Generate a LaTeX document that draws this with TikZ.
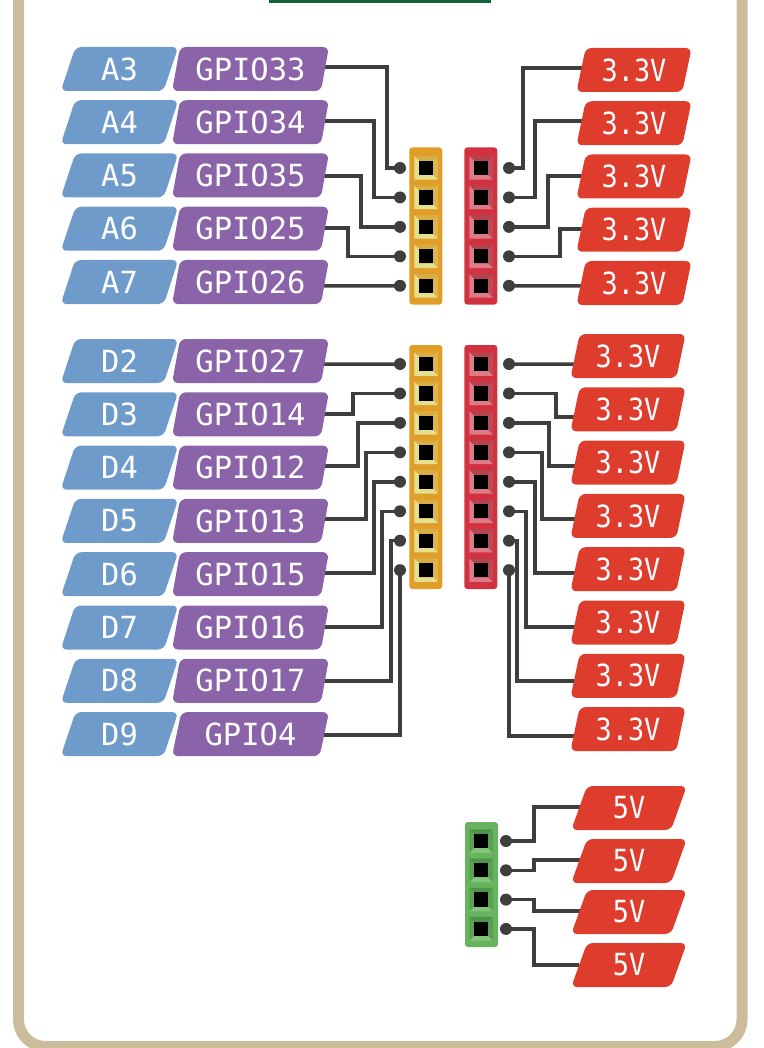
\documentclass[tikz,border=0pt]{standalone}
\usepackage{fontspec}
\setmonofont{DejaVu Sans Mono}
\newfontfamily\powerfont[FakeStretch=0.88]{DejaVu Sans Mono}
\usetikzlibrary{
		positioning,
		backgrounds,
		shapes.geometric
	}
\definecolor{framecol}{HTML}{CBBD9B}
\definecolor{barcol}{HTML}{14633A}
\definecolor{wirecol}{HTML}{403D3D}
\definecolor{bluecol}{HTML}{6F9BCB}
\definecolor{purplecol}{HTML}{8A63A8}
\definecolor{redcol}{HTML}{DE3D2D}
\definecolor{yhead}{HTML}{E09E28}
\definecolor{rhead}{HTML}{D2323F}
\definecolor{ghead}{HTML}{68B35E}
\definecolor{ytop}{HTML}{D8AE42}
\definecolor{yright}{HTML}{DDB54C}
\definecolor{ylow}{HTML}{E5DF90}
\definecolor{rtop}{HTML}{B5434F}
\definecolor{rright}{HTML}{BE4A58}
\definecolor{rlow}{HTML}{DE7B88}
\definecolor{gtop}{HTML}{4E9348}
\definecolor{gright}{HTML}{5AA053}
\definecolor{glow}{HTML}{82C47A}
\tikzset{
		tag/.style={trapezium, trapezium left angle=75, trapezium right angle=105, trapezium stretches=true, rounded corners=6pt, inner sep=0pt, outer sep=0pt, minimum height=44pt, text=white, font=\fontsize{30.5}{30.5}\selectfont\ttfamily},
		analog/.style={tag, fill=bluecol, minimum width=118pt},
		gpio/.style={tag, fill=purplecol, minimum width=157pt},
		power/.style={tag, fill=redcol, minimum width=116pt, font=\fontsize{30.5}{30.5}\selectfont\powerfont},
		point/.style={coordinate},
		solder/.style={circle, fill=wirecol, inner sep=0pt, minimum size=12pt},
		wire/.style={draw=wirecol, line width=3.5pt},
		header/.style={rounded corners=3pt, minimum width=33pt, inner sep=0pt},
		socket/.style n args={4}{rectangle, inner sep=0pt, minimum size=23.5pt, path picture={
			\path (path picture bounding box.south west) coordinate (sw) (path picture bounding box.north east) coordinate (ne) (path picture bounding box.south east) coordinate (se) (path picture bounding box.north west) coordinate (nw);
			\fill[#1] (nw) -- (ne) -- ([shift={(-4.6pt,-4.6pt)}]ne) -- ([shift={(4.6pt,-4.6pt)}]nw) -- cycle;
			\fill[#2] (ne) -- (se) -- ([shift={(-4.6pt,4.6pt)}]se) -- ([shift={(-4.6pt,-4.6pt)}]ne) -- cycle;
			\fill[#3] (se) -- (sw) -- ([shift={(4.6pt,4.6pt)}]sw) -- ([shift={(-4.6pt,4.6pt)}]se) -- cycle;
			\fill[#4] (sw) -- (nw) -- ([shift={(4.6pt,-4.6pt)}]nw) -- ([shift={(4.6pt,4.6pt)}]sw) -- cycle;
			\fill[black] ([shift={(4.6pt,4.6pt)}]sw) rectangle ([shift={(-4.6pt,-4.6pt)}]ne);
		}},
		ypin/.style={socket={ytop}{yright}{ylow}{ylow}},
		rpin/.style={socket={rtop}{rright}{rlow}{rlow}},
		gpin/.style={socket={gtop}{gright}{glow}{gright}}
	}
\begin{document}
\begin{tikzpicture}[x=1pt,y=-1pt,on grid,node distance=29.45pt]
	\useasboundingbox (0,0) rectangle (763,1048);
	% Analog Labels
	\node[analog] (A3) at (119.5,69)           {A3};
	\node[analog] (A4) [below = 53.25pt of A3] {A4};
	\node[analog] (A5) [below = 53.25pt of A4] {A5};
	\node[analog] (A6) [below = 53.25pt of A5] {A6};
	\node[analog] (A7) [below = 53.25pt of A6] {A7};
	\node[gpio] (G33) at (250.5,69)            {GPIO33};
	\node[gpio] (G34) [below = 53.25pt of G33] {GPIO34};
	\node[gpio] (G35) [below = 53.25pt of G34] {GPIO35};
	\node[gpio] (G25) [below = 53.25pt of G35] {GPIO25};
	\node[gpio] (G26) [below = 53.25pt of G25] {GPIO26};
	% Digital Labels
	\node[analog] (D2) at (119.5,361)         {D2};
	\node[analog] (D3) [below = 53.3pt of D2] {D3};
	\node[analog] (D4) [below = 53.3pt of D3] {D4};
	\node[analog] (D5) [below = 53.3pt of D4] {D5};
	\node[analog] (D6) [below = 53.3pt of D5] {D6};
	\node[analog] (D7) [below = 53.3pt of D6] {D7};
	\node[analog] (D8) [below = 53.3pt of D7] {D8};
	\node[analog] (D9) [below = 53.3pt of D8] {D9};
	\node[gpio] (G27) at (250.5,361)          {GPIO27};
	\node[gpio] (G14) [below = 53.3pt of G27] {GPIO14};
	\node[gpio] (G12) [below = 53.3pt of G14] {GPIO12};
	\node[gpio] (G13) [below = 53.3pt of G12] {GPIO13};
	\node[gpio] (G15) [below = 53.3pt of G13] {GPIO15};
	\node[gpio] (G16) [below = 53.3pt of G15] {GPIO16};
	\node[gpio] (G17) [below = 53.3pt of G16] {GPIO17};
	\node[gpio] (G4)  [below = 53.3pt of G17] {GPIO4};
	% Power Labels
	\node[power] (R1) at (634,70)             {3.3V};
	\node[power] (R2) [below = 53.25pt of R1] {3.3V};
	\node[power] (R3) [below = 53.25pt of R2] {3.3V};
	\node[power] (R4) [below = 53.25pt of R3] {3.3V};
	\node[power] (R5) [below = 53.25pt of R4] {3.3V};
	\node[power] (S1) at (628,356)            {3.3V};
	\node[power] (S2) [below = 53.3pt of S1]  {3.3V};
	\node[power] (S3) [below = 53.3pt of S2]  {3.3V};
	\node[power] (S4) [below = 53.3pt of S3]  {3.3V};
	\node[power] (S5) [below = 53.3pt of S4]  {3.3V};
	\node[power] (S6) [below = 53.3pt of S5]  {3.3V};
	\node[power] (S7) [below = 53.3pt of S6]  {3.3V};
	\node[power] (S8) [below = 53.3pt of S7]  {3.3V};
	\node[power] (V1) at (629,808)            {5V};
	\node[power] (V2) [below = 53pt of V1]    {5V};
	\node[power] (V3) [below = 51pt of V2]    {5V};
	\node[power] (V4) [below = 53pt of V3]    {5V};
	% Headers
	\node[header, fill=yhead, minimum height=157pt] (HYA) at (425.8,226) {};
	\node[header, fill=rhead, minimum height=157pt] (HRA) at (480.8,226) {};
	\node[header, fill=yhead, minimum height=244pt] (HYD) at (425.8,467) {};
	\node[header, fill=rhead, minimum height=244pt] (HRD) at (480.8,467) {};
	\node[header, fill=ghead, minimum height=125pt] (HG)  at (481.5,884.5) {};
	% Sockets
	\node[ypin] (sya1) at (426,168) {};
	\node[ypin] (sya2) [below = of sya1] {};
	\node[ypin] (sya3) [below = of sya2] {};
	\node[ypin] (sya4) [below = of sya3] {};
	\node[ypin] (sya5) [below = of sya4] {};
	\node[rpin] (sra1) at (481,168) {};
	\node[rpin] (sra2) [below = of sra1] {};
	\node[rpin] (sra3) [below = of sra2] {};
	\node[rpin] (sra4) [below = of sra3] {};
	\node[rpin] (sra5) [below = of sra4] {};
	\node[ypin] (syd1) at (426,364) {};
	\node[ypin] (syd2) [below = of syd1] {};
	\node[ypin] (syd3) [below = of syd2] {};
	\node[ypin] (syd4) [below = of syd3] {};
	\node[ypin] (syd5) [below = of syd4] {};
	\node[ypin] (syd6) [below = of syd5] {};
	\node[ypin] (syd7) [below = of syd6] {};
	\node[ypin] (syd8) [below = of syd7] {};
	\node[rpin] (srd1) at (481,364) {};
	\node[rpin] (srd2) [below = of srd1] {};
	\node[rpin] (srd3) [below = of srd2] {};
	\node[rpin] (srd4) [below = of srd3] {};
	\node[rpin] (srd5) [below = of srd4] {};
	\node[rpin] (srd6) [below = of srd5] {};
	\node[rpin] (srd7) [below = of srd6] {};
	\node[rpin] (srd8) [below = of srd7] {};
	\node[gpin] (sg1) at (481,841) {};
	\node[gpin] (sg2) [below = 29.3pt of sg1] {};
	\node[gpin] (sg3) [below = 29.3pt of sg2] {};
	\node[gpin] (sg4) [below = 29.3pt of sg3] {};
	% Solder Points
	\node[solder] (dya1) [left = 26pt of sya1] {};
	\node[solder] (dya2) [left = 26pt of sya2] {};
	\node[solder] (dya3) [left = 26pt of sya3] {};
	\node[solder] (dya4) [left = 26pt of sya4] {};
	\node[solder] (dya5) [left = 26pt of sya5] {};
	\node[solder] (dra1) [right = 28pt of sra1] {};
	\node[solder] (dra2) [right = 28pt of sra2] {};
	\node[solder] (dra3) [right = 28pt of sra3] {};
	\node[solder] (dra4) [right = 28pt of sra4] {};
	\node[solder] (dra5) [right = 28pt of sra5] {};
	\node[solder] (dyd1) [left = 26pt of syd1] {};
	\node[solder] (dyd2) [left = 26pt of syd2] {};
	\node[solder] (dyd3) [left = 26pt of syd3] {};
	\node[solder] (dyd4) [left = 26pt of syd4] {};
	\node[solder] (dyd5) [left = 26pt of syd5] {};
	\node[solder] (dyd6) [left = 26pt of syd6] {};
	\node[solder] (dyd7) [left = 26pt of syd7] {};
	\node[solder] (dyd8) [left = 26pt of syd8] {};
	\node[solder] (drd1) [right = 28pt of srd1] {};
	\node[solder] (drd2) [right = 28pt of srd2] {};
	\node[solder] (drd3) [right = 28pt of srd3] {};
	\node[solder] (drd4) [right = 28pt of srd4] {};
	\node[solder] (drd5) [right = 28pt of srd5] {};
	\node[solder] (drd6) [right = 28pt of srd6] {};
	\node[solder] (drd7) [right = 28pt of srd7] {};
	\node[solder] (drd8) [right = 28pt of srd8] {};
	\node[solder] (dg1) [right = 25pt of sg1] {};
	\node[solder] (dg2) [right = 25pt of sg2] {};
	\node[solder] (dg3) [right = 25pt of sg3] {};
	\node[solder] (dg4) [right = 25pt of sg4] {};
	% Bends
	\node[point] (bya1) [left = 13pt of dya1] {};
	\node[point] (bya2) [left = 26pt of dya2] {};
	\node[point] (bya3) [left = 39pt of dya3] {};
	\node[point] (bya4) [left = 52pt of dya4] {};
	\node[point] (bra1) [right = 14pt of dra1] {};
	\node[point] (bra2) [right = 26pt of dra2] {};
	\node[point] (bra3) [right = 39pt of dra3] {};
	\node[point] (bra4) [right = 51pt of dra4] {};
	\node[point] (byd2) [left = 47pt of dyd2] {};
	\node[point] (byd3) [left = 42pt of dyd3] {};
	\node[point] (byd4) [left = 34pt of dyd4] {};
	\node[point] (byd5) [left = 26pt of dyd5] {};
	\node[point] (byd6) [left = 18pt of dyd6] {};
	\node[point] (byd7) [left = 9pt of dyd7] {};
	\node[point] (brd2) [right = 47pt of drd2] {};
	\node[point] (brd3) [right = 40pt of drd3] {};
	\node[point] (brd4) [right = 33pt of drd4] {};
	\node[point] (brd5) [right = 26pt of drd5] {};
	\node[point] (brd6) [right = 17pt of drd6] {};
	\node[point] (brd7) [right = 8pt of drd7] {};
	\node[point] (bg1) [right = 28pt of dg1] {};
	\node[point] (bg2) [right = 28pt of dg2] {};
	\node[point] (bg3) [right = 28pt of dg3] {};
	\node[point] (bg4) [right = 28pt of dg4] {};
	\begin{scope}[on background layer]
	% Frame
	\draw[framecol, line width=11pt, rounded corners=27pt] (18.5,-40) rectangle (742,1046.5);
	\fill[barcol] (269,-5) rectangle (491,3);
	% Left Lines
	\draw[wire] ([shift={(-3,-2)}]G33.east) -| (bya1) -- (dya1.center);
	\draw[wire] ([shift={(-3,-1.25)}]G34.east) -| (bya2) -- (dya2.center);
	\draw[wire] ([shift={(-3,0.5)}]G35.east) -| (bya3) -- (dya3.center);
	\draw[wire] ([shift={(-3,-0.75)}]G25.east) -| (bya4) -- (dya4.center);
	\draw[wire] ([shift={(-3,3.8)}]G26.east) -- (dya5.center);
	\draw[wire] ([shift={(-3,3)}]G27.east) -- (dyd1.center);
	\draw[wire] ([shift={(-3,-0.3)}]G14.east) -| (byd2) -- (dyd2.center);
	\draw[wire] ([shift={(-3,-1.6)}]G12.east) -| (byd3) -- (dyd3.center);
	\draw[wire] ([shift={(-3,-1.9)}]G13.east) -| (byd4) -- (dyd4.center);
	\draw[wire] ([shift={(-3,-1.2)}]G15.east) -| (byd5) -- (dyd5.center);
	\draw[wire] ([shift={(-3,-0.5)}]G16.east) -| (byd6) -- (dyd6.center);
	\draw[wire] ([shift={(-3,0.2)}]G17.east) -| (byd7) -- (dyd7.center);
	\draw[wire] ([shift={(-3,0.9)}]G4.east) -| (dyd8.center);
	% Right Lines
	\draw[wire] (dra1.center) -- (bra1) |- ([shift={(3,-2)}]R1.west);
	\draw[wire] (dra2.center) -- (bra2) |- ([shift={(3,-2.25)}]R2.west);
	\draw[wire] (dra3.center) -- (bra3) |- ([shift={(3,-0.5)}]R3.west);
	\draw[wire] (dra4.center) -- (bra4) |- ([shift={(3,-0.75)}]R4.west);
	\draw[wire] (dra5.center) -- ([shift={(3,2.8)}]R5.west);
	\draw[wire] (drd1.center) -- ([shift={(3,8)}]S1.west);
	\draw[wire] (drd2.center) -- (brd2) |- ([shift={(3,7.7)}]S2.west);
	\draw[wire] (drd3.center) -- (brd3) |- ([shift={(3,3.4)}]S3.west);
	\draw[wire] (drd4.center) -- (brd4) |- ([shift={(3,3.1)}]S4.west);
	\draw[wire] (drd5.center) -- (brd5) |- ([shift={(3,3.8)}]S5.west);
	\draw[wire] (drd6.center) -- (brd6) |- ([shift={(3,4.5)}]S6.west);
	\draw[wire] (drd7.center) -- (brd7) |- ([shift={(3,5.2)}]S7.west);
	\draw[wire] (drd8.center) |- ([shift={(3,6.9)}]S8.west);
	\draw[wire] (dg1.center) -- (bg1) |- ([shift={(3,-1)}]V1.west);
	\draw[wire] (dg2.center) -- (bg2) |- ([shift={(3,-1)}]V2.west);
	\draw[wire] (dg3.center) -- (bg3) |- ([shift={(3,-1)}]V3.west);
	\draw[wire] (dg4.center) -- (bg4) |- (V4.west);
	\end{scope}
\end{tikzpicture}
\end{document}
